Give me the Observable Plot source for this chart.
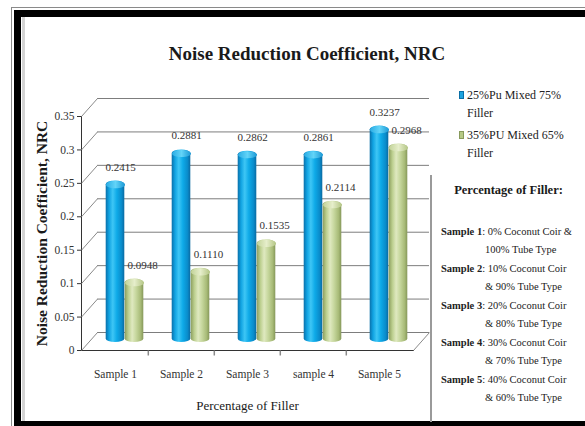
<!DOCTYPE html>
<html>
<head>
<meta charset="utf-8">
<script src="https://cdn.jsdelivr.net/npm/d3@7"></script>
<script src="https://cdn.jsdelivr.net/npm/@observablehq/plot@0.6"></script>
<style>
  html, body { margin: 0; padding: 0; background: #ffffff; }
  #chart { position: absolute; left: 0; top: 0; width: 585px; height: 426px; overflow: hidden; background: #fff; font-family: "Liberation Serif", "Times New Roman", serif; }
  .abs { position: absolute; }
  #title { left: 100px; width: 414px; top: 43px; text-align: center; font-weight: bold; font-size: 19px; color: #1a1a1a; white-space: nowrap; }
  #plotwrap { left: 0; top: 80px; }
  .leg { font-size: 12px; color: #222; white-space: nowrap; line-height: 18px; }
  .sw { position: absolute; width: 5px; height: 8px; }
  #fillerHead { left: 436px; width: 145px; top: 183px; text-align: center; font-size: 12.5px; font-weight: bold; color: #1a1a1a; }
  .note { font-size: 10.5px; color: #222; white-space: nowrap; line-height: 18.5px; }
  .note b { font-weight: bold; }
  g[aria-label="y-title"] text { letter-spacing: 2.4px; }
</style>
</head>
<body>
<svg width="0" height="0" style="position:absolute">
  <defs>
    <linearGradient id="gBlue" x1="0" x2="1" y1="0" y2="0">
      <stop offset="0" stop-color="#0a70aa"/>
      <stop offset="0.18" stop-color="#10a3e2"/>
      <stop offset="0.38" stop-color="#3ec6f5"/>
      <stop offset="0.6" stop-color="#0eaae8"/>
      <stop offset="0.85" stop-color="#0a8ccb"/>
      <stop offset="1" stop-color="#0a6aa2"/>
    </linearGradient>
    <linearGradient id="gGreen" x1="0" x2="1" y1="0" y2="0">
      <stop offset="0" stop-color="#8c9e5e"/>
      <stop offset="0.2" stop-color="#bccf8f"/>
      <stop offset="0.4" stop-color="#dfe9c0"/>
      <stop offset="0.62" stop-color="#c5d69c"/>
      <stop offset="0.85" stop-color="#a8bb78"/>
      <stop offset="1" stop-color="#86985a"/>
    </linearGradient>
    <linearGradient id="gBlueCap" x1="0" x2="1" y1="0" y2="0">
      <stop offset="0" stop-color="#2aace4"/>
      <stop offset="0.5" stop-color="#62d4f8"/>
      <stop offset="1" stop-color="#1b98d5"/>
    </linearGradient>
    <linearGradient id="gGreenCap" x1="0" x2="1" y1="0" y2="0">
      <stop offset="0" stop-color="#c2d398"/>
      <stop offset="0.5" stop-color="#e6eecb"/>
      <stop offset="1" stop-color="#b3c584"/>
    </linearGradient>
  </defs>
</svg>
<div id="chart">
  <!-- frame -->
  <div class="abs" style="left:11px;top:7px;width:600px;height:1px;background:#8a8a8a"></div>
  <div class="abs" style="left:11px;top:7px;width:1px;height:430px;background:#8a8a8a"></div>
  <div class="abs" style="left:14px;top:10px;width:600px;height:7px;background:#000"></div>
  <div class="abs" style="left:14px;top:10px;width:7px;height:430px;background:#000"></div>
  <div class="abs" style="left:22px;top:17px;width:3px;height:410px;background:#d4d4d4"></div>
  <div class="abs" style="left:14px;top:421px;width:600px;height:6px;background:#000"></div>
  <div class="abs" style="left:430px;top:175px;width:2px;height:247px;background:#9a9a9a"></div>

  <div id="title" class="abs"></div>
  <div id="plotwrap" class="abs"></div>
  <div id="legend"></div>
  <div id="fillerHead" class="abs"></div>
  <div id="notes"></div>
</div>
<script>
// ---- data ----
const samples = ["Sample 1", "Sample 2", "Sample 3", "sample 4", "Sample 5"];
const pu25 = [0.2415, 0.2881, 0.2862, 0.2861, 0.3237];
const pu35 = [0.0948, 0.1110, 0.1535, 0.2114, 0.2968];
const seriesNames = ["25%Pu Mixed 75%", "35%PU Mixed 65%"];
const seriesNames2 = ["Filler", "Filler"];
const yTicks = [0, 0.05, 0.1, 0.15, 0.2, 0.25, 0.3, 0.35];
const yTickLabels = ["0", "0.05", "0.1", "0.15", "0.2", "0.25", "0.3", "0.35"];
const titleText = "Noise Reduction Coefficient, NRC";
const yTitle = "Noise Reduction Coefficient, NRC";
const xTitle = "Percentage of Filler";
const fillerHead = "Percentage of Filler:";
const noteLabels = ["Sample 1", "Sample 2", "Sample 3", "Sample 4", "Sample 5"];
const noteLine1 = [": 0% Coconut Coir &", ": 10% Coconut Coir", ": 20% Coconut Coir", ": 30% Coconut Coir", ": 40% Coconut Coir"];
const noteLine2 = ["100% Tube Type", "& 90% Tube Type", "& 80% Tube Type", "& 70% Tube Type", "& 60% Tube Type"];

const rows = samples.map((s, i) => ({sample: s, pu25: pu25[i], pu35: pu35[i]}));

// ---- decorative symbols for the 3D box ----
const diag = {draw(ctx) { ctx.moveTo(0, 0); ctx.lineTo(16, -18); }};
const vtick = {draw(ctx) { ctx.moveTo(0, 0); ctx.lineTo(0, 5); }};
const k = 0.5523, ex = 9.5, ey = 3.6;
const capSym = {draw(ctx) {
  ctx.moveTo(-ex, 0);
  ctx.bezierCurveTo(-ex, -ey * k, -ex * k, -ey, 0, -ey);
  ctx.bezierCurveTo(ex * k, -ey, ex, -ey * k, ex, 0);
  ctx.bezierCurveTo(ex, ey * k, ex * k, ey, 0, ey);
  ctx.bezierCurveTo(-ex * k, ey, -ex, ey * k, -ex, 0);
  ctx.closePath();
}};

const inset = 23.7;
const plot = Plot.plot({
  width: 440,
  height: 346,
  marginLeft: 81,
  marginRight: 27,
  marginTop: 36,
  marginBottom: 76,
  style: {fontFamily: "'Liberation Serif', serif", fontSize: "11.5px", color: "#333", background: "transparent", overflow: "visible"},
  x: {domain: samples, padding: 0, tickSize: 0, tickPadding: 19, line: true, label: null},
  y: {domain: [0, 0.35], ticks: yTicks, tickFormat: d => yTickLabels[yTicks.indexOf(d)], tickSize: 4, tickPadding: 3, line: true, label: null},
  marks: [
    Plot.ruleY(yTicks, {y: d => d, dx: 16, dy: -18, stroke: "#7d7d7d", strokeWidth: 1}),
    Plot.dot(yTicks, {y: d => d, frameAnchor: "left", symbol: diag, fill: "none", stroke: "#8a8a8a", strokeWidth: 1}),
    Plot.dot([0], {y: d => d, frameAnchor: "right", symbol: diag, fill: "none", stroke: "#8a8a8a", strokeWidth: 1}),
    Plot.dot(samples.slice(1), {x: d => d, frameAnchor: "bottom", dx: -33.2, symbol: vtick, fill: "none", stroke: "#8a8a8a"}),
    Plot.barY(rows, {x: "sample", y: "pu25", fill: "url(#gBlue)", insetLeft: inset, insetRight: inset, dy: -8, rx: 9.5, ry: 3.6}),
    Plot.dot(rows, {x: "sample", y: "pu25", symbol: capSym, fill: "url(#gBlueCap)", stroke: "none", dy: -4.4}),
    Plot.barY(rows, {x: "sample", y: "pu35", fill: "url(#gGreen)", insetLeft: inset, insetRight: inset, dx: 19, dy: -8, rx: 9.5, ry: 3.6}),
    Plot.dot(rows, {x: "sample", y: "pu35", symbol: capSym, fill: "url(#gGreenCap)", stroke: "none", dx: 19, dy: -4.4}),
    Plot.text(rows, {x: "sample", y: "pu25", text: d => d.pu25.toFixed(4), dx: 5, dy: -22, fontSize: 11, fill: "#333"}),
    Plot.text(rows, {x: "sample", y: "pu35", text: d => d.pu35.toFixed(4), dx: 27, dy: -22, fontSize: 11, fill: "#333"}),
    Plot.text([yTitle], {text: d => d, frameAnchor: "left", textAnchor: "middle", lineAnchor: "middle", dx: -39, rotate: -90, fontSize: 15.5, fontWeight: "bold", fill: "#1a1a1a", ariaLabel: "y-title"}),
    Plot.text([xTitle], {text: d => d, frameAnchor: "bottom", textAnchor: "middle", lineAnchor: "middle", dy: 55, fontSize: 13, fill: "#1a1a1a"})
  ]
});
document.getElementById("plotwrap").appendChild(plot);

document.getElementById("title").textContent = titleText;
document.getElementById("fillerHead").textContent = fillerHead;

// legend
const legColors = ["#1ea4df", "#b6c985"];
const legBorders = ["#0b6fa6", "#889a5c"];
const legTop = [86, 126];
const legend = document.getElementById("legend");
seriesNames.forEach((name, i) => {
  const sw = document.createElement("div");
  sw.className = "sw";
  sw.style.left = "459px";
  sw.style.top = (legTop[i] + 5) + "px";
  sw.style.background = legColors[i];
  sw.style.boxShadow = "inset 0 0 0 1px " + legBorders[i];
  legend.appendChild(sw);
  const t = document.createElement("div");
  t.className = "abs leg";
  t.style.left = "467px";
  t.style.top = legTop[i] + "px";
  const l1 = document.createElement("div"); l1.textContent = name;
  const l2 = document.createElement("div"); l2.textContent = seriesNames2[i];
  t.appendChild(l1); t.appendChild(l2);
  legend.appendChild(t);
});

// notes
const notes = document.getElementById("notes");
noteLabels.forEach((lab, i) => {
  const top = 223 + i * 37;
  const a = document.createElement("div");
  a.className = "abs note";
  a.style.left = "441px";
  a.style.top = top + "px";
  const b = document.createElement("b"); b.textContent = lab;
  const s = document.createElement("span"); s.textContent = noteLine1[i];
  a.appendChild(b); a.appendChild(s);
  notes.appendChild(a);
  const c = document.createElement("div");
  c.className = "abs note";
  c.style.left = "485px";
  c.style.top = (top + 18) + "px";
  c.textContent = noteLine2[i];
  notes.appendChild(c);
});
</script>
</body>
</html>
